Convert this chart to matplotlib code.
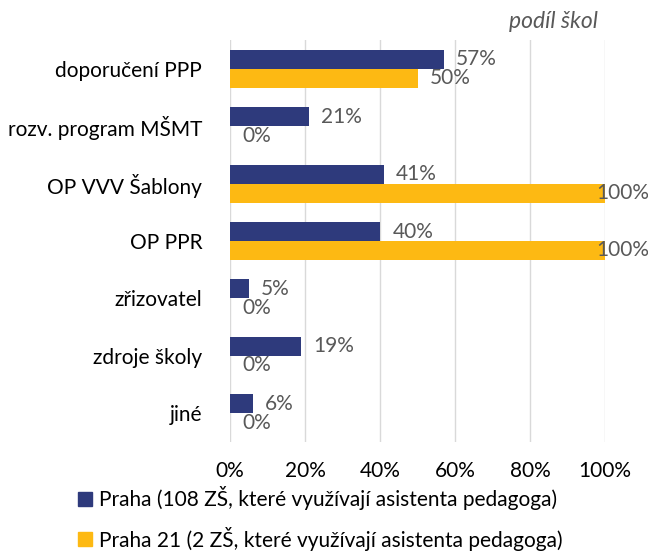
import numpy as np
import matplotlib.pyplot as plt
from matplotlib.patches import Patch

categories = ['doporučení PPP', 'rozv. program MŠMT', 'OP VVV Šablony', 'OP PPR',
              'zřizovatel', 'zdroje školy', 'jiné']
praha = [57, 21, 41, 40, 5, 19, 6]
praha21 = [50, 0, 100, 100, 0, 0, 0]
series_names = ['Praha (108 ZŠ, které využívají asistenta pedagoga)',
                'Praha 21 (2 ZŠ, které využívají asistenta pedagoga)']
xticks = [0, 20, 40, 60, 80, 100]

navy = '#2E3A7C'
yellow = '#FDB913'
grey = '#595959'
fs = 15

plt.rcParams['font.family'] = ['Lato', 'DejaVu Sans']

fig = plt.figure(figsize=(6.48, 5.54), dpi=100)
ax = fig.add_axes([230 / 648, 1 - 442 / 554, 375 / 648, 402 / 554])

y = np.arange(len(categories))
h = 0.33
ax.barh(y - h / 2, praha, height=h, color=navy)
ax.barh(y + h / 2, praha21, height=h, color=yellow)

for vals, off in ((praha, -h / 2), (praha21, h / 2)):
    for i, v in enumerate(vals):
        dx = -6.5 if v >= 100 else 9
        ax.annotate(f'{v}%', (v, i + off), xytext=(dx, 0), textcoords='offset points',
                    ha='left', va='center', fontsize=fs, color=grey)

ax.set_xlim(0, 100)
ax.set_ylim(len(categories) - 0.5, -0.5)
ax.set_xticks(xticks)
ax.set_xticklabels([f'{t}%' for t in xticks], fontsize=fs, color='black')
ax.set_yticks(y)
ax.set_yticklabels(categories, fontsize=fs, color='black')
ax.tick_params(length=0)
ax.tick_params(axis='x', pad=14)
ax.tick_params(axis='y', pad=20)
for s in ax.spines.values():
    s.set_visible(False)
ax.grid(axis='x', color='#D9D9D9', linewidth=1)
ax.set_axisbelow(True)

fig.text(598 / 648, 1 - 22 / 554, 'podíl škol', ha='right', va='center',
         fontsize=16.5, style='italic', color=grey)

handles = [Patch(color=navy), Patch(color=yellow)]
fig.legend(handles, series_names, loc='upper left', bbox_to_anchor=(78 / 648, 1 - 486 / 554),
           frameon=False, fontsize=fs, handlelength=0.65, handleheight=0.65,
           handletextpad=0.35, labelspacing=0.8, borderaxespad=0, borderpad=0)

fig.savefig('out.png', dpi=100)
